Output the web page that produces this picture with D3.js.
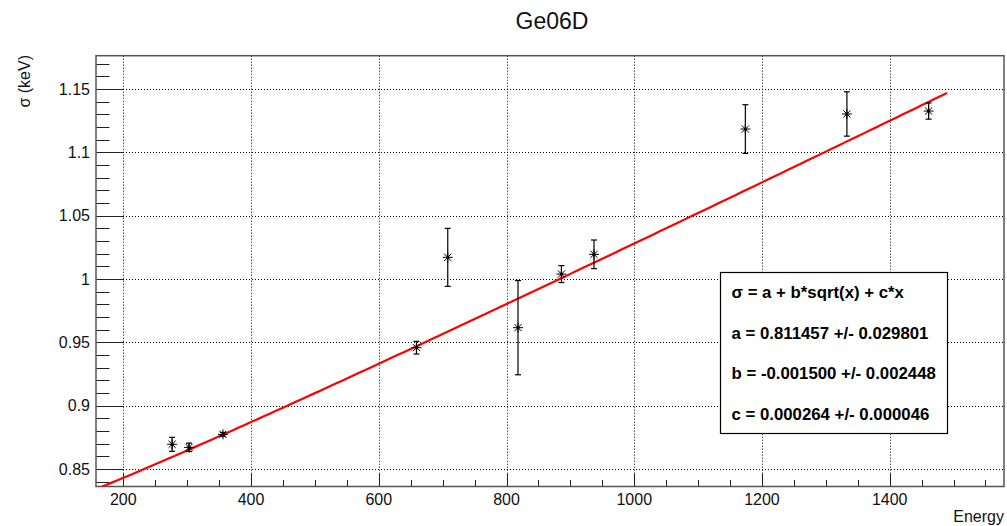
<!DOCTYPE html>
<html>
<head>
<meta charset="utf-8">
<script src="https://cdn.jsdelivr.net/npm/d3@7"></script>
<style>
  html, body { margin: 0; padding: 0; background: #fff; }
  svg { display: block; font-family: "Liberation Sans", Arial, Helvetica, sans-serif; }
</style>
</head>
<body>
<svg id="chart" width="1007" height="526"></svg>
<script>
// ---- data ----
const energies = [276.4, 302.9, 356.0, 659.0, 708.0, 818.0, 886.0, 937.0, 1174.0, 1333.0, 1461.0];
const sigmas   = [0.8695, 0.8671, 0.8774, 0.9458, 1.0171, 0.9616, 1.0039, 1.0195, 1.1184, 1.1303, 1.1326];
const sigmaErr = [0.0055, 0.0033, 0.0015, 0.0050, 0.0229, 0.0372, 0.0067, 0.0113, 0.0192, 0.0175, 0.0064];
const fitParams = [0.811457, -0.001500, 0.000264];   // a, b, c
const fitRange = [150, 1490];
const xTicks = [200, 400, 600, 800, 1000, 1200, 1400];
const yTicks = [0.85, 0.9, 0.95, 1, 1.05, 1.1, 1.15];
const legendLines = [
  "σ = a + b*sqrt(x) + c*x",
  "a = 0.811457 +/- 0.029801",
  "b = -0.001500 +/- 0.002448",
  "c = 0.000264 +/- 0.000046"
];
const titleText = "Ge06D";
const xTitle = "Energy";
const yTitle = "σ (keV)";

// ---- layout ----
const L = 96, R = 1004, T = 55.7, B = 486.5;
const svg = d3.select("#chart");
const x = d3.scaleLinear().domain([157.2, 1579]).range([L, R]);
const y = d3.scaleLinear().domain([0.8362, 1.1763]).range([B, T]);

// grid
const grid = svg.append("g").attr("stroke", "#000").attr("stroke-width", 1)
  .attr("stroke-dasharray", "1,2").attr("fill", "none");
xTicks.forEach(v => grid.append("line")
  .attr("x1", Math.round(x(v)) + 0.5).attr("x2", Math.round(x(v)) + 0.5)
  .attr("y1", T).attr("y2", B));
yTicks.forEach(v => grid.append("line")
  .attr("y1", Math.round(y(v)) + 0.5).attr("y2", Math.round(y(v)) + 0.5)
  .attr("x1", L).attr("x2", R));

// axes: major + minor ticks drawn inward
const axisColor = "#555";
const ax = svg.append("g").attr("stroke", "#222").attr("stroke-width", 1);
// x ticks (step 50 minor)
d3.range(200, 1579, 50).forEach(v => {
  const major = v % 200 === 0;
  const px = Math.round(x(v)) + 0.5;
  ax.append("line").attr("x1", px).attr("x2", px)
    .attr("y1", B).attr("y2", B - (major ? 13 : 6.5));
});
// y ticks (step 0.01 minor)
d3.range(84, 118).map(k => k / 100).forEach(v => {
  const major = Math.round(v * 100) % 5 === 0;
  const py = Math.round(y(v)) + 0.5;
  ax.append("line").attr("y1", py).attr("y2", py)
    .attr("x1", L).attr("x2", L + (major ? 27 : 13.5));
});

// tick labels
svg.append("g").selectAll("text").data(xTicks).join("text")
  .attr("x", d => x(d)).attr("y", 505).attr("text-anchor", "middle")
  .attr("font-size", 16).attr("fill", "#111").text(d => d);
svg.append("g").selectAll("text").data(yTicks).join("text")
  .attr("x", 90).attr("y", d => y(d)).attr("dy", "0.36em").attr("text-anchor", "end")
  .attr("font-size", 16).attr("fill", "#111").text(d => d);

// frame
svg.append("rect").attr("x", L).attr("y", T).attr("width", R - L).attr("height", B - T)
  .attr("fill", "none").attr("stroke", axisColor).attr("stroke-width", 1.5);

// titles
svg.append("text").attr("x", 552).attr("y", 28.5).attr("text-anchor", "middle")
  .attr("font-size", 23).attr("fill", "#111").text(titleText);
svg.append("text").attr("x", 1004).attr("y", 521.5).attr("text-anchor", "end")
  .attr("font-size", 16).attr("fill", "#111").text(xTitle);
svg.append("text").attr("transform", "translate(30,55) rotate(-90)")
  .attr("text-anchor", "end").attr("font-size", 16).attr("fill", "#111").text(yTitle);

// clip
svg.append("clipPath").attr("id", "clip").append("rect")
  .attr("x", L).attr("y", T).attr("width", R - L).attr("height", B - T);

// fit curve
const [a, b, c] = fitParams;
const fx = d3.range(fitRange[0], fitRange[1] + 1, 10);
const line = d3.line().x(d => x(d)).y(d => y(a + b * Math.sqrt(d) + c * d));
svg.append("path").datum(fx).attr("d", line).attr("clip-path", "url(#clip)")
  .attr("fill", "none").attr("stroke", "#f00").attr("stroke-width", 2.2);

// data points with error bars
const pts = svg.append("g").attr("stroke", "#000").attr("stroke-width", 1.2);
energies.forEach((e, i) => {
  const px = x(e), py = y(sigmas[i]);
  const y1 = y(sigmas[i] + sigmaErr[i]), y2 = y(sigmas[i] - sigmaErr[i]);
  pts.append("line").attr("x1", px).attr("x2", px).attr("y1", y1).attr("y2", y2);
  pts.append("line").attr("x1", px - 3).attr("x2", px + 3).attr("y1", y1).attr("y2", y1);
  pts.append("line").attr("x1", px - 3).attr("x2", px + 3).attr("y1", y2).attr("y2", y2);
  const s = 5;
  pts.append("line").attr("x1", px - s).attr("x2", px + s).attr("y1", py).attr("y2", py).attr("stroke-width", 1);
  pts.append("line").attr("x1", px).attr("x2", px).attr("y1", py - s).attr("y2", py + s).attr("stroke-width", 1);
  pts.append("line").attr("x1", px - 3.6).attr("x2", px + 3.6).attr("y1", py - 3.6).attr("y2", py + 3.6).attr("stroke-width", 1);
  pts.append("line").attr("x1", px - 3.6).attr("x2", px + 3.6).attr("y1", py + 3.6).attr("y2", py - 3.6).attr("stroke-width", 1);
  pts.append("circle").attr("cx", px).attr("cy", py).attr("r", 1.6).attr("fill", "#000").attr("stroke", "none");
});

// legend box
const lg = svg.append("g");
lg.append("rect").attr("x", 720.5).attr("y", 272.5).attr("width", 227).attr("height", 161)
  .attr("fill", "#fff").attr("stroke", "#000").attr("stroke-width", 1.2);
const baselines = [298, 338.5, 379, 419.5];
lg.selectAll("text").data(legendLines).join("text")
  .attr("x", 731.5).attr("y", (d, i) => baselines[i])
  .attr("font-size", 16.8).attr("font-weight", "bold").attr("fill", "#000").text(d => d);
</script>
</body>
</html>
